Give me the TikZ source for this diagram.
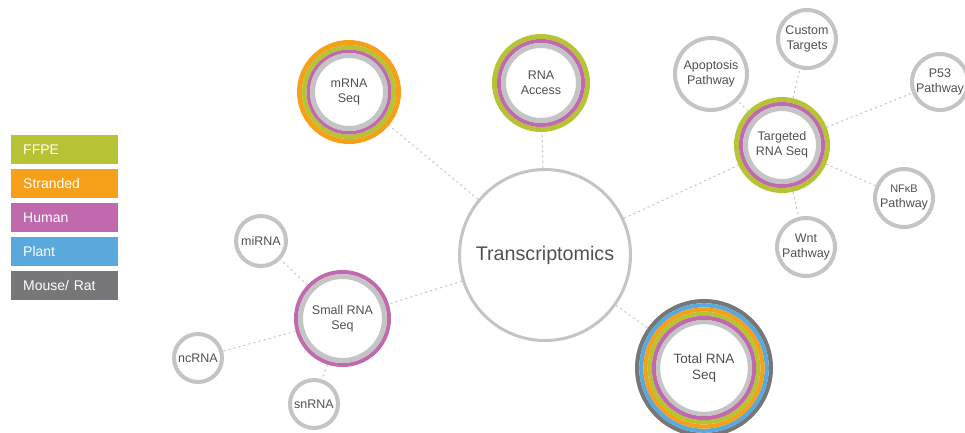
\documentclass[tikz,border=0pt]{standalone}
\usepackage{fontspec}
\setmainfont{Liberation Sans}
\usetikzlibrary{backgrounds}
\definecolor{ffpe}{HTML}{B5C334}
\definecolor{strand}{HTML}{F6A01A}
\definecolor{human}{HTML}{C06AAD}
\definecolor{plant}{HTML}{5AA9DD}
\definecolor{mouse}{HTML}{77777A}
\definecolor{ringgray}{HTML}{C4C4C6}
\definecolor{txtgray}{HTML}{505153}
\definecolor{conngray}{HTML}{C6C6C6}
\newcommand\band[4]{\draw[line width=#4pt,draw=#1] (#2.center) circle[radius=#3pt];}
\tikzset{
  lbl/.style={align=center, text=txtgray, font=\fontsize{12.5}{15}\selectfont},
  small/.style={lbl, circle, draw=ringgray, line width=4pt, fill=white, inner sep=0pt},
  ringed/.style={lbl, circle, draw=none, fill=white, inner sep=0pt, outer sep=0pt},
  conn/.style={draw=conngray, line width=1pt, dash pattern=on 2.2pt off 3pt},
  legend/.style={rectangle, anchor=north west, inner sep=0pt, inner xsep=12pt,
    minimum height=29pt, text width=83pt, align=left, text=white,
    font=\fontsize{14}{16}\selectfont},
}
\begin{document}
\begin{tikzpicture}[x=1pt,y=-1pt]
\useasboundingbox (0,0) rectangle (965,432);
% legend
\node[legend, fill=ffpe]   (l1) at (11,135) {FFPE};
\node[legend, fill=strand] (l2) at (11,169) {Stranded};
\node[legend, fill=human]  (l3) at (11,203) {Human};
\node[legend, fill=plant]  (l4) at (11,237) {Plant};
\node[legend, fill=mouse]  (l5) at (11,271) {Mouse/ Rat};
% central
\node[circle, draw=ringgray, line width=3pt, fill=white, minimum size=171pt,
  text=txtgray, font=\fontsize{19.7}{22}\selectfont] (tr) at (545,255) {Transcriptomics};
% ringed nodes
\node[ringed, minimum size=104pt] (mrna) at (349,92) {mRNA\\Seq};
\node[ringed, minimum size=98pt] (acc) at (541,83) {RNA\\Access};
\node[ringed, minimum size=96pt] (tgt) at (782,145) {Targeted\\RNA Seq};
\node[ringed, minimum size=97pt] (srna) at (342.5,318.5) {Small RNA\\Seq};
\node[ringed, minimum size=138pt, font=\fontsize{13.5}{16}\selectfont] (tot) at (704,368) {Total RNA\\Seq};
% small circles
\node[small, minimum size=72pt] (apo) at (711,74) {Apoptosis\\Pathway};
\node[small, minimum size=58pt] (cus) at (807,39) {Custom\\Targets};
\node[small, minimum size=56pt] (p53) at (940,82) {P53\\Pathway};
\node[small, minimum size=58pt] (nfkb) at (904,198) {{\fontsize{11}{13}\selectfont NFκB}\\Pathway};
\node[small, minimum size=58pt] (wnt) at (806,247) {Wnt\\Pathway};
\node[small, minimum size=50pt] (mir) at (261,241) {miRNA};
\node[small, minimum size=48pt] (nc) at (198,358) {ncRNA};
\node[small, minimum size=48pt] (sn) at (314,404) {snRNA};
% bands (outer radius minus half width)
\band{strand}{mrna}{49.5}{5}
\band{ffpe}{mrna}{44.75}{4.5}
\band{human}{mrna}{40.75}{3.5}
\band{ringgray}{mrna}{36.5}{5}
\band{ffpe}{acc}{46.5}{5}
\band{human}{acc}{42}{4}
\band{ringgray}{acc}{37.5}{5}
\band{ffpe}{tgt}{45.5}{5}
\band{human}{tgt}{41}{4}
\band{ringgray}{tgt}{36.5}{5}
\band{human}{srna}{46.5}{4}
\band{ringgray}{srna}{42}{5}
\band{mouse}{tot}{66.9}{4.2}
\band{plant}{tot}{62.7}{4.2}
\band{strand}{tot}{58.5}{4.2}
\band{ffpe}{tot}{54.3}{4.2}
\band{human}{tot}{50.1}{4.2}
\band{ringgray}{tot}{45.9}{4.2}
% connectors
\begin{scope}[on background layer]
\draw[conn] (tr) -- (mrna);
\draw[conn] (tr) -- (acc);
\draw[conn] (tr) -- (tgt);
\draw[conn] (tr) -- (srna);
\draw[conn] (tr) -- (tot);
\draw[conn] (tgt) -- (apo);
\draw[conn] (tgt) -- (cus);
\draw[conn] (tgt) -- (p53);
\draw[conn] (tgt) -- (nfkb);
\draw[conn] (tgt) -- (wnt);
\draw[conn] (srna) -- (mir);
\draw[conn] (srna) -- (nc);
\draw[conn] (srna) -- (sn);
\end{scope}
\end{tikzpicture}
\end{document}
